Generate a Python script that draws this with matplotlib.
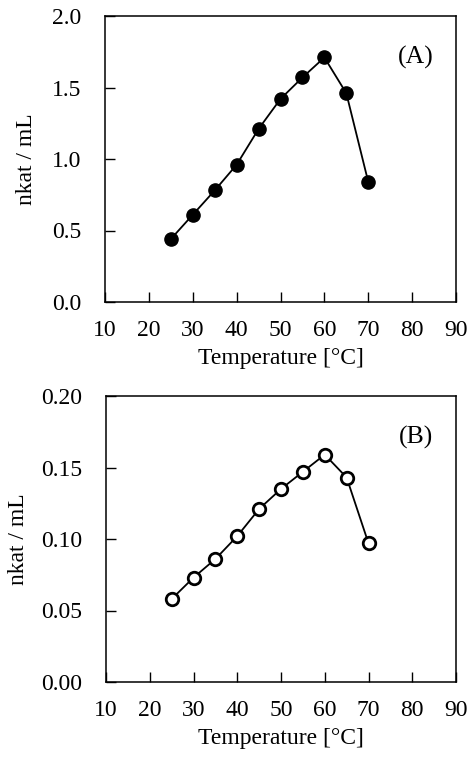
import numpy as np
import matplotlib.pyplot as plt

plt.rcParams['font.family'] = ['Liberation Serif', 'DejaVu Serif']

temp = [25, 30, 35, 40, 45, 50, 55, 60, 65, 70]
act_a = [0.44, 0.61, 0.78, 0.96, 1.21, 1.42, 1.57, 1.71, 1.46, 0.84]
act_b = [0.058, 0.073, 0.086, 0.102, 0.121, 0.135, 0.147, 0.159, 0.143, 0.097]

xticks = [10, 20, 30, 40, 50, 60, 70, 80, 90]
yticks_a = [0.0, 0.5, 1.0, 1.5, 2.0]
yticks_b = [0.00, 0.05, 0.10, 0.15, 0.20]

fig = plt.figure(figsize=(4.73, 7.62), dpi=100)
W, H = 473, 762
ax1 = fig.add_axes([105 / W, 1 - 302 / H, 351 / W, 286 / H])
ax2 = fig.add_axes([106 / W, 1 - 682 / H, 350 / W, 286 / H])


def style(ax, yticks, yfmt, label, ylpad):
    ax.set_xlim(10, 90)
    ax.set_ylim(yticks[0], yticks[-1])
    ax.set_xticks(xticks)
    ax.set_yticks(yticks)
    ax.set_yticklabels([yfmt.format(v) for v in yticks])
    ax.tick_params(direction='in', length=7, width=1, labelsize=17,
                   top=False, right=False)
    ax.tick_params(axis='y', pad=17)
    ax.tick_params(axis='x', pad=13)
    for s in ax.spines.values():
        s.set_linewidth(1.1)
    ax.set_xlabel('Temperature [°C]', fontsize=17, labelpad=5)
    ax.set_ylabel('nkat / mL', fontsize=17, labelpad=ylpad)
    ax.text(0.885, 0.855, label, transform=ax.transAxes, fontsize=18.5,
            ha='center', va='center')


ax1.plot(temp, act_a, color='black', lw=1.3, marker='o', markersize=9.5,
         markerfacecolor='black', markeredgecolor='black', clip_on=False)
style(ax1, yticks_a, '{:.1f}', '(A)', 11)

ax2.plot(temp, act_b, color='black', lw=1.3, marker='o', markersize=9,
         markerfacecolor='white', markeredgecolor='black', markeredgewidth=2,
         clip_on=False)
style(ax2, yticks_b, '{:.2f}', '(B)', 9)

fig.savefig('out.png', dpi=100)
